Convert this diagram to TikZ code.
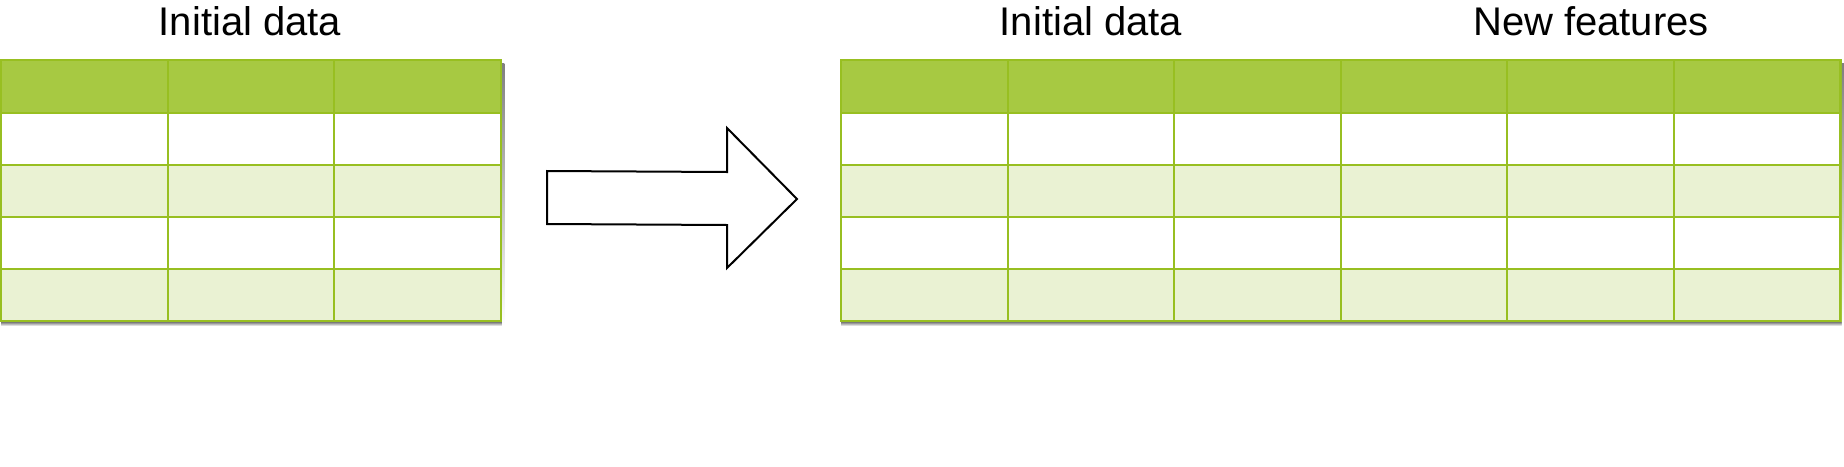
\documentclass[tikz,border=0pt]{standalone}
\usepackage{fontspec}
\setmainfont{Liberation Sans}
\definecolor{hdr}{HTML}{A7C942}
\definecolor{edge}{HTML}{98BF21}
\definecolor{alt}{HTML}{EAF2D3}
\definecolor{shade}{HTML}{B5B5B5}
\tikzset{
  title/.style={font=\fontsize{40}{42}\selectfont, anchor=base, inner sep=0pt},
  gridline/.style={draw=edge, line width=2pt},
  arrowshape/.style={draw=black, line width=2pt, fill=white, line join=miter}
}
\begin{document}
\begin{tikzpicture}[x=1pt,y=-1pt]
\useasboundingbox (0,0) rectangle (1844,466);
\foreach \x/\n in {1/3, 841/6}{
  \pgfmathsetmacro{\xr}{\x+166.6*\n}
  \fill[hdr] (\x,60) rectangle (\xr,113);
  \fill[white] (\x,113) rectangle (\xr,165);
  \fill[alt] (\x,165) rectangle (\xr,217);
  \fill[white] (\x,217) rectangle (\xr,269);
  \fill[alt] (\x,269) rectangle (\xr,321);
  \foreach \y in {113,165,217,269}{
    \draw[gridline] (\x,\y) -- (\xr,\y);
  }
  \foreach \k in {1,...,\n}{
    \ifnum\k<\n
      \draw[gridline] (\x+166.6*\k,60) -- (\x+166.6*\k,321);
    \fi
  }
  \draw[gridline, line width=2.5pt] (\x,60) rectangle (\xr,321);
  % drop shadow strips
  \fill[shade] (\x,322.2) rectangle (\xr+3.5,326);
  \fill[shade] (\xr+1.2,63) rectangle (\xr+3.5,326);
}
\node[title] (t1) at (250,35) {Initial data};
\node[title] (t2) at (1091,35) {Initial data};
\node[title] (t3) at (1591,35) {New features};
\draw[arrowshape] (547,171) -- (727,172) -- (727,128) -- (797,199) -- (727,268) -- (727,225) -- (547,224) -- cycle;
\end{tikzpicture}
\end{document}
